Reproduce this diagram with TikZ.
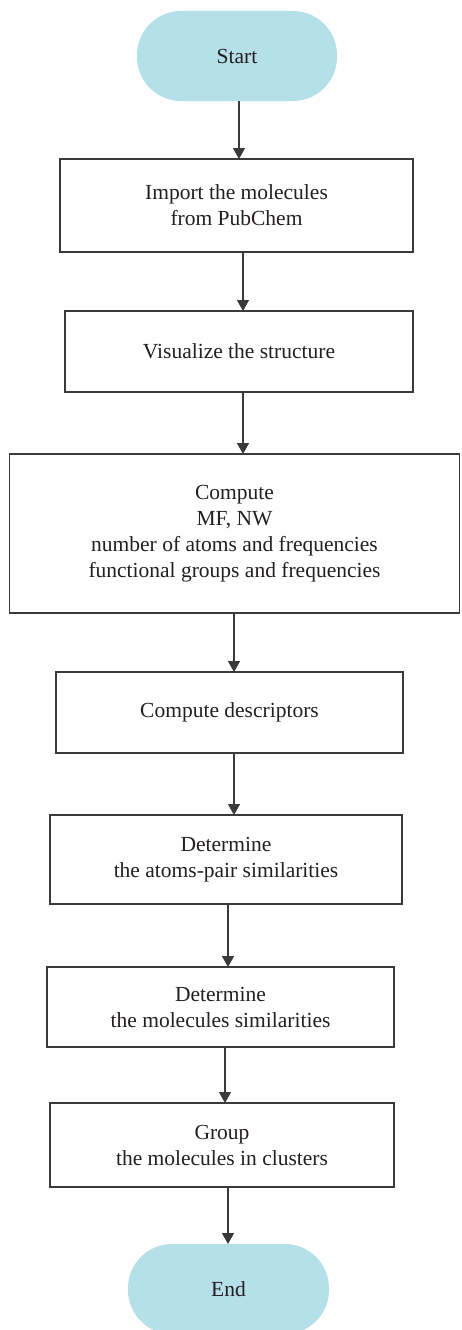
\documentclass[tikz,border=0pt]{standalone}
\usepackage{fontspec}
\setmainfont{Liberation Serif}
\usetikzlibrary{arrows.meta}
\definecolor{pill}{HTML}{B5E0EA}
\definecolor{edge}{HTML}{3A3A3A}
\definecolor{ink}{HTML}{231F20}
\begin{document}
\begin{tikzpicture}[x=1pt,y=-1pt,
  every node/.style={inner sep=0pt,outer sep=0pt,align=center,text=ink,
    font=\fontsize{21.5}{26}\selectfont},
  stepbox/.style={draw=edge,line width=1.4pt,fill=white,rectangle},
  term/.style={fill=pill,rectangle,rounded corners=44pt},
  arr/.style={draw=edge,line width=1.4pt,-{Triangle[width=12pt,length=11pt]}}]
\clip (0,0) rectangle (461,1330);
\node[term,minimum width=200pt,minimum height=90pt] (start) at (237,56) {Start};
\node[stepbox,minimum width=353pt,minimum height=93pt] (b1) at (236.5,205.5) {Import the molecules\\from PubChem};
\node[stepbox,minimum width=348pt,minimum height=81pt] (b2) at (239,351.5) {Visualize the structure};
\node[stepbox,minimum width=450pt,minimum height=159pt] (b3) at (234.5,533.5) {Compute\\MF, NW\\number of atoms and frequencies\\functional groups and frequencies};
\node[stepbox,minimum width=347pt,minimum height=81pt] (b4) at (229.5,712.5) {Compute descriptors};
\node[stepbox,minimum width=352pt,minimum height=89pt] (b5) at (226,859.5) {Determine\\the atoms-pair similarities};
\node[stepbox,minimum width=347pt,minimum height=80pt] (b6) at (220.5,1007) {Determine\\the molecules similarities};
\node[stepbox,minimum width=344pt,minimum height=84pt] (b7) at (222,1145) {Group\\the molecules in clusters};
\node[term,minimum width=201pt,minimum height=90pt] (end) at (228.5,1289) {End};
\draw[arr] (start.south -| 239,0) -- (b1.north -| 239,0);
\draw[arr] (b1.south -| 243,0) -- (b2.north -| 243,0);
\draw[arr] (b2.south -| 243,0) -- (b3.north -| 243,0);
\draw[arr] (b3.south -| 234,0) -- (b4.north -| 234,0);
\draw[arr] (b4.south -| 234,0) -- (b5.north -| 234,0);
\draw[arr] (b5.south -| 228,0) -- (b6.north -| 228,0);
\draw[arr] (b6.south -| 225,0) -- (b7.north -| 225,0);
\draw[arr] (b7.south -| 228,0) -- (end.north -| 228,0);
\end{tikzpicture}
\end{document}
